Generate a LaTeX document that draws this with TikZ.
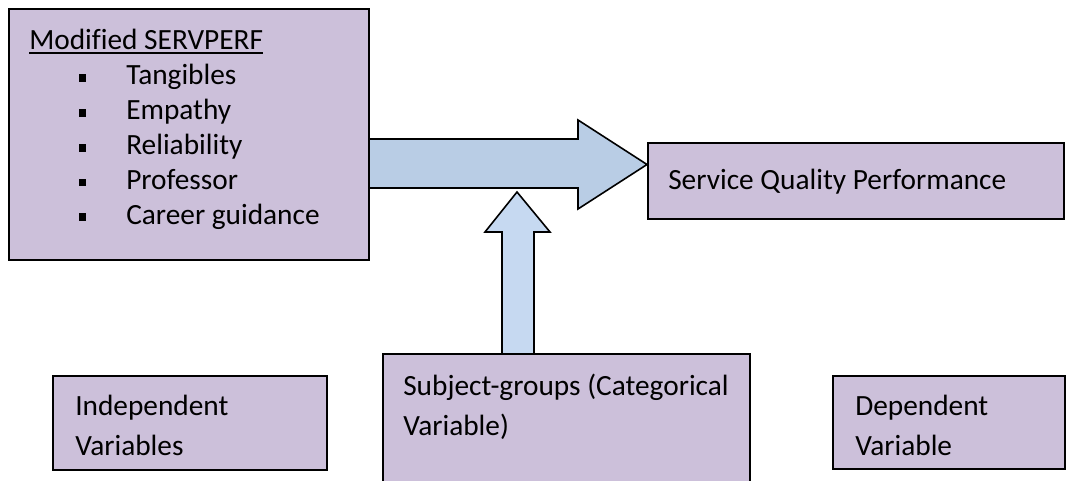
\documentclass[tikz,border=0pt]{standalone}
\usepackage{fontspec}
\setmainfont{Carlito}[Ligatures=NoCommon]
\usetikzlibrary{fit}
\definecolor{boxfill}{HTML}{CCC0DA}
\definecolor{arrowA}{HTML}{B9CDE5}
\definecolor{arrowB}{HTML}{C6D9F1}
\begin{document}
\begin{tikzpicture}[x=0.75pt,y=-0.75pt,
  box/.style={draw=black, fill=boxfill, line width=1.5pt, inner sep=0pt},
  txt/.style={anchor=base west, inner sep=0pt, font=\fontsize{22}{26.8}\selectfont},
  bul/.style={fill=black, minimum size=5.8pt, inner sep=0pt},
  blockarrow/.style={draw=black, line width=1.2pt, line join=miter}]
\clip (0,0) rectangle (1066,481);
\fill[white] (0,0) rectangle (1066,481);

% block arrows (drawn first, boxes cover their ends)
\coordinate (hs) at (355,164.5);
\coordinate (ht) at (647,164.5);
\draw[blockarrow, fill=arrowA] (hs |- 0,139) -- (578,139) -- (578,120) -- (ht) -- (578,209) -- (578,188) -- (hs |- 0,188) -- cycle;
\coordinate (vs) at (517,362);
\coordinate (vt) at (517,192);
\draw[blockarrow, fill=arrowB] (502,362) -- (502,232) -- (485,232) -- (vt) -- (550,232) -- (534,232) -- (534,362) -- cycle;

% boxes
\node[box, fit={(9,9) (369,260)}] (servperf) {};
\node[box, fit={(648,143) (1064,219)}] (sqp) {};
\node[box, fit={(53,376) (327,470)}] (indep) {};
\node[box, fit={(383,354) (750,500)}] (subj) {};
\node[box, fit={(833,376) (1065,469)}] (dep) {};

% top-left box text
\node[txt] (title) at (29,50) {Modified SERVPERF};
\draw[line width=1.1pt] ([yshift=-2.4pt]title.base west) -- ([yshift=-2.4pt]title.base east);
\node[bul] (b1) at (82.5,78) {};
\node[txt] (i1) at (126,85) {Tangibles};
\node[bul] (b2) at (82.5,113) {};
\node[txt] (i2) at (126,120) {Empathy};
\node[bul] (b3) at (82.5,148) {};
\node[txt] (i3) at (126,155) {Reliability};
\node[bul] (b4) at (82.5,182.5) {};
\node[txt] (i4) at (126,189.5) {Professor};
\node[bul] (b5) at (82.5,217) {};
\node[txt] (i5) at (126,224) {Career guidance};

% other texts
\node[txt] (sqpt) at (668,190) {Service Quality Performance};
\node[txt] (ind1) at (75,415) {Independent};
\node[txt] (ind2) at (75,455) {Variables};
\node[txt] (sub1) at (403,395) {Subject-groups (Categorical};
\node[txt] (sub2) at (403,435) {Variable)};
\node[txt] (dep1) at (855,415) {Dependent};
\node[txt] (dep2) at (855,455) {Variable};
\end{tikzpicture}
\end{document}
